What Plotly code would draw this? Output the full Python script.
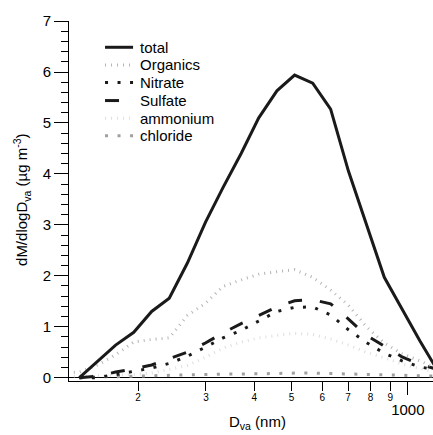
import plotly.graph_objects as go

# Vacuum aerodynamic diameter (nm)
dva = [127, 141, 157.5, 175, 195, 217, 241, 268.5, 299, 332, 370, 411, 458, 509, 567, 631, 702, 781, 869, 966, 1075, 1196]

total = [None, 0.0, 0.32, 0.64, 0.89, 1.30, 1.56, 2.25, 3.05, 3.73, 4.40, 5.10, 5.63, 5.94, 5.78, 5.27, 4.05, 2.99, 1.97, 1.35, 0.72, 0.13]
organics = [0.10, 0.11, 0.25, 0.45, 0.70, 0.75, 0.78, 1.22, 1.46, 1.79, 1.92, 2.03, 2.08, 2.12, 1.97, 1.72, 1.42, 1.00, 0.68, 0.47, 0.33, 0.17]
nitrate = [None, 0.0, 0.0, 0.06, 0.13, 0.19, 0.28, 0.42, 0.60, 0.78, 0.93, 1.12, 1.30, 1.38, 1.39, 1.23, 0.94, 0.69, 0.48, 0.33, 0.21, 0.15]
sulfate = [None, 0.0, 0.03, 0.11, 0.17, 0.25, 0.38, 0.50, 0.68, 0.88, 1.06, 1.23, 1.39, 1.51, 1.53, 1.45, 1.15, 0.83, 0.62, 0.41, 0.26, 0.16]
ammonium = [0.03, 0.03, 0.04, 0.05, 0.06, 0.09, 0.17, 0.24, 0.40, 0.58, 0.70, 0.78, 0.83, 0.87, 0.85, 0.76, 0.64, 0.50, 0.39, 0.27, 0.18, 0.10]
chloride = [None, 0.01, 0.01, 0.02, 0.03, 0.04, 0.05, 0.06, 0.06, 0.07, 0.07, 0.08, 0.08, 0.09, 0.09, 0.08, 0.07, 0.06, 0.05, 0.04, 0.03, 0.03]

minor_tickvals = [200, 300, 400, 500, 600, 700, 800, 900]
minor_ticktext = ["2", "3", "4", "5", "6", "7", "8", "9"]

FONT = "Arial, Liberation Sans, sans-serif"

series = [
    ("total", total, dict(color="#1a1a1a", width=3, dash="solid")),
    ("Organics", organics, dict(color="#b4b4b4", width=3, dash="1px,5px")),
    ("Nitrate", nitrate, dict(color="#1a1a1a", width=3, dash="3px,9.5px")),
    ("Sulfate", sulfate, dict(color="#1a1a1a", width=3, dash="14px,18px")),
    ("ammonium", ammonium, dict(color="#dedede", width=3, dash="1px,5px")),
    ("chloride", chloride, dict(color="#a0a0a0", width=3, dash="3px,9.5px")),
]

fig = go.Figure()
# draw in reverse so 'total' sits on top
for name, vals, ln in reversed(series):
    fig.add_trace(go.Scatter(x=dva, y=vals, mode="lines", name=name, line=ln,
                             showlegend=False, connectgaps=False))

# helper trace for second x-axis (1000 label)
fig.add_trace(go.Scatter(x=[1000, 1000], y=[None, None], xaxis="x2", mode="lines",
                         showlegend=False, hoverinfo="skip"))

xr = [2.1223, 3.0652]
fig.update_layout(
    width=433, height=435,
    margin=dict(l=69, r=0, t=21, b=54),
    plot_bgcolor="white", paper_bgcolor="white",
    font=dict(family=FONT, color="black", size=15),
    showlegend=False,
    xaxis=dict(type="log", range=xr, tickvals=minor_tickvals, ticktext=minor_ticktext,
               ticks="outside", ticklen=9, tickcolor="black", tickwidth=1,
               showline=True, linecolor="black", linewidth=1, showgrid=False,
               zeroline=False, tickfont=dict(size=10), ticklabelstandoff=-2),
    xaxis2=dict(type="log", range=xr, overlaying="x", anchor="y", side="bottom",
                tickvals=[1000], ticktext=["1000"], ticks="outside", ticklen=13,
                tickcolor="black", tickwidth=1, showline=False, showgrid=False,
                zeroline=False, tickfont=dict(size=15), ticklabelstandoff=2),
    yaxis=dict(range=[-0.065, 7.001], tick0=0, dtick=1, ticks="outside", ticklen=14,
               tickcolor="black", tickwidth=1, showline=True, linecolor="black",
               linewidth=1, showgrid=False, zeroline=True, zerolinecolor="black",
               zerolinewidth=1, tickfont=dict(size=15),
               minor=dict(dtick=0.2, tick0=0, ticks="outside", ticklen=7,
                          tickcolor="black", showgrid=False)),
)

# axis titles
fig.add_annotation(text="D<sub>va</sub> (nm)", xref="paper", yref="paper",
                   x=0.518, y=-0.116, xanchor="center", yanchor="middle",
                   showarrow=False, font=dict(size=15))
fig.add_annotation(text="dM/dlogD<sub>va</sub> (µg m<sup>-3</sup>)", xref="paper", yref="paper",
                   x=-0.129, y=0.503, xanchor="center", yanchor="middle", textangle=-90,
                   showarrow=False, font=dict(size=15))

# legend (drawn manually to match the compact row spacing)
leg_y = [0.927, 0.878, 0.829, 0.779, 0.730, 0.681]
for (name, vals, ln), yy in zip(series, leg_y):
    fig.add_shape(type="line", xref="paper", yref="paper", x0=0.099, x1=0.176,
                  y0=yy, y1=yy, line=ln)
    fig.add_annotation(text=name, xref="paper", yref="paper", x=0.19, y=yy,
                       xanchor="left", yanchor="middle", showarrow=False,
                       font=dict(size=15))

fig.write_html("out.html", config={"displayModeBar": False},
               post_script="document.body.style.margin='0';document.body.style.overflow='hidden';")
